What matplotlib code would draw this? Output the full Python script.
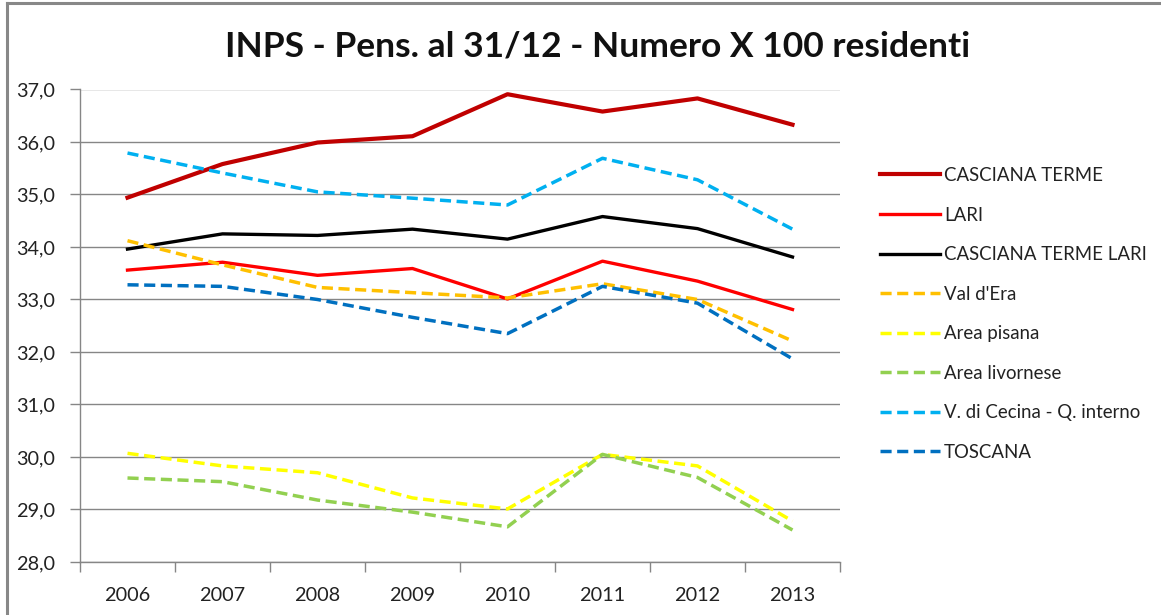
import matplotlib
matplotlib.use('Agg')
import matplotlib.pyplot as plt
from matplotlib.ticker import FuncFormatter, FixedLocator
from matplotlib.lines import Line2D

plt.rcParams['font.family'] = ['Lato', 'DejaVu Sans']

years = ['2006', '2007', '2008', '2009', '2010', '2011', '2012', '2013']

casciana_terme = [34.94, 35.58, 35.99, 36.11, 36.91, 36.58, 36.83, 36.33]
lari = [33.56, 33.71, 33.46, 33.59, 33.01, 33.73, 33.35, 32.81]
casciana_terme_lari = [33.96, 34.25, 34.22, 34.34, 34.15, 34.58, 34.35, 33.81]
val_dera = [34.12, 33.66, 33.23, 33.13, 33.03, 33.30, 33.00, 32.21]
area_pisana = [30.07, 29.83, 29.70, 29.22, 29.01, 30.05, 29.83, 28.78]
area_livornese = [29.60, 29.53, 29.18, 28.95, 28.67, 30.05, 29.61, 28.61]
cecina = [35.79, 35.41, 35.05, 34.93, 34.80, 35.69, 35.28, 34.34]
toscana = [33.28, 33.25, 33.00, 32.66, 32.35, 33.25, 32.93, 31.87]

series = [
    ('CASCIANA TERME', casciana_terme, '#C00000', 3.0, '-'),
    ('LARI', lari, '#FF0000', 2.4, '-'),
    ('CASCIANA TERME LARI', casciana_terme_lari, '#000000', 2.4, '-'),
    ("Val d'Era", val_dera, '#FFC000', 2.5, '--'),
    ('Area pisana', area_pisana, '#FFFF00', 2.5, '--'),
    ('Area livornese', area_livornese, '#92D050', 2.5, '--'),
    ('V. di Cecina - Q. interno', cecina, '#00B0F0', 2.5, '--'),
    ('TOSCANA', toscana, '#0070C0', 2.5, '--'),
]

fig = plt.figure(figsize=(11.61, 6.15), dpi=100)
ax = fig.add_axes([80 / 1161, 53 / 615, 760 / 1161, 472.5 / 615])

x = list(range(len(years)))
handles = []
for name, vals, col, lw, ls in series:
    ln, = ax.plot(x, vals, color=col, lw=lw, ls=ls, label=name, zorder=3)
    if ls == '--':
        ln.set_dashes((3.2, 1.6))
    handles.append(ln)

ax.set_xlim(-0.5, 7.5)
ax.set_ylim(28, 37)
ax.set_yticks([28, 29, 30, 31, 32, 33, 34, 35, 36, 37])
ax.yaxis.set_major_formatter(FuncFormatter(lambda v, p: f'{v:.1f}'.replace('.', ',')))
ax.set_xticks(x)
ax.set_xticklabels(years)
ax.xaxis.set_minor_locator(FixedLocator([i - 0.5 for i in range(9)]))
ax.tick_params(axis='x', which='major', length=0, pad=18, labelsize=14.3, colors='#222222')
ax.tick_params(axis='x', which='minor', length=7, width=1, color='#868686')
ax.tick_params(axis='y', length=7, width=1, color='#868686', pad=11, labelsize=14.3, labelcolor='#222222')
ax.grid(axis='y', color='#868686', lw=1, zorder=1)
for s in ['top', 'right']:
    ax.spines[s].set_visible(False)
for s in ['left', 'bottom']:
    ax.spines[s].set_color('#868686')
    ax.spines[s].set_linewidth(1)

fig.text(0.515, 0.925, 'INPS - Pens. al 31/12 - Numero X 100 residenti',
         ha='center', va='center', fontsize=25.5, fontweight='bold', color='#111111')

leg = fig.legend(handles=handles, loc='upper left', bbox_to_anchor=(880 / 1161, 1 - 167 / 615),
                 frameon=False, fontsize=13.4, handlelength=3.2, handletextpad=0.25,
                 labelspacing=1.21, borderpad=0, borderaxespad=0)
for t in leg.get_texts():
    t.set_color('#222222')

# outer chart frame (only top and left edges visible in the crop)
fig.add_artist(Line2D([7 / 1161, 1], [1 - 2.5 / 615, 1 - 2.5 / 615], color='#888888', lw=2.2))
fig.add_artist(Line2D([7 / 1161, 7 / 1161], [0, 1 - 2.5 / 615], color='#888888', lw=2.2))

fig.savefig('out.png', dpi=100)
